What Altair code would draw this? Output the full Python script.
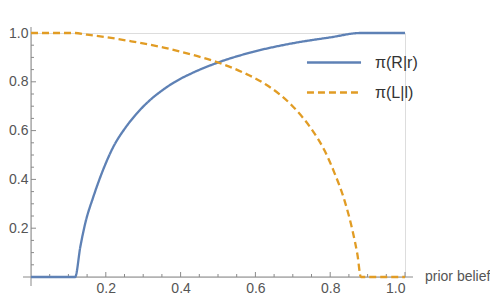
import altair as alt
import pandas as pd

# Curves
blue_x = [0, 0.118, 0.132, 0.145, 0.167, 0.193, 0.219, 0.254, 0.281, 0.316, 0.35, 0.382, 0.434, 0.5, 0.592, 0.7, 0.8, 0.882, 1.0]
blue_y = [0, 0, 0.125, 0.22, 0.33, 0.44, 0.53, 0.615, 0.667, 0.722, 0.764, 0.797, 0.838, 0.879, 0.922, 0.958, 0.982, 1.0, 1.0]
orange_x = [0, 0.118, 0.15, 0.2, 0.268, 0.355, 0.443, 0.5, 0.566, 0.627, 0.697, 0.75, 0.785, 0.811, 0.838, 0.86, 0.873, 0.882, 1.0]
orange_y = [1, 1, 0.993, 0.983, 0.966, 0.94, 0.906, 0.879, 0.839, 0.79, 0.704, 0.606, 0.518, 0.428, 0.315, 0.188, 0.09, 0, 0]
series_names = ["π(R|r)", "π(L|l)"]
colors = ["#5E81B5", "#E19C24"]

x_tick_labels = [0.2, 0.4, 0.6, 0.8, 1.0]
y_tick_labels = [0.2, 0.4, 0.6, 0.8, 1.0]
minor_ticks = [round(0.05 * i, 2) for i in range(1, 21)]
x_axis_title = "prior belief"

rows = []
for x, y in zip(blue_x, blue_y):
    rows.append({"x": x, "y": y, "s": series_names[0]})
for x, y in zip(orange_x, orange_y):
    rows.append({"x": x, "y": y, "s": series_names[1]})
df = pd.DataFrame(rows)

xs = alt.Scale(domain=[0, 1], nice=False, zero=False)
ys = alt.Scale(domain=[0, 1], nice=False, zero=False)
AX = "#8a8a8a"
LAB = "#555555"
FONT = "Liberation Sans"

lines = alt.Chart(df).mark_line(strokeWidth=2.3, interpolate="monotone", clip=False).encode(
    x=alt.X("x:Q", scale=xs, axis=alt.Axis(values=x_tick_labels, format=".1f", domain=False, ticks=False, grid=False,
                                           labelPadding=4, labelFontSize=14, labelColor=LAB, labelFont=FONT, title=None)),
    y=alt.Y("y:Q", scale=ys, axis=alt.Axis(values=y_tick_labels, format=".1f", domain=False, ticks=False, grid=False,
                                           labelPadding=3, labelFontSize=14, labelColor=LAB, labelFont=FONT, title=None)),
    color=alt.Color("s:N", scale=alt.Scale(domain=series_names, range=colors),
                    legend=alt.Legend(orient="none", legendX=295, legendY=21.5, title=None,
                                      symbolType="M-5,0H5", symbolSize=117, symbolStrokeWidth=2.3,
                                      labelFontSize=16, labelFont=FONT, labelColor="#333333",
                                      labelOffset=33, rowPadding=14, padding=0)),
    strokeDash=alt.StrokeDash("s:N", scale=alt.Scale(domain=series_names, range=[[1, 0], [7, 4]]), legend=None),
)

ticks_df = pd.DataFrame({"t": minor_ticks, "major": [abs(t / 0.2 - round(t / 0.2)) < 1e-6 for t in minor_ticks]})

x_major = alt.Chart(ticks_df).transform_filter("datum.major").mark_rule(color=AX, strokeWidth=1, y2Offset=-5).encode(
    x=alt.X("t:Q", scale=xs), y=alt.datum(0), y2=alt.datum(0))
x_minor = alt.Chart(ticks_df).transform_filter("!datum.major").mark_rule(color=AX, strokeWidth=1, y2Offset=-3).encode(
    x=alt.X("t:Q", scale=xs), y=alt.datum(0), y2=alt.datum(0))
y_major = alt.Chart(ticks_df).transform_filter("datum.major").mark_rule(color=AX, strokeWidth=1, x2Offset=5).encode(
    y=alt.Y("t:Q", scale=ys), x=alt.datum(0), x2=alt.datum(0))
y_minor = alt.Chart(ticks_df).transform_filter("!datum.major").mark_rule(color=AX, strokeWidth=1, x2Offset=3).encode(
    y=alt.Y("t:Q", scale=ys), x=alt.datum(0), x2=alt.datum(0))

x_axis = alt.Chart(pd.DataFrame({"a": [0]})).mark_rule(color=AX, strokeWidth=1, xOffset=-8, x2Offset=8).encode(
    x=alt.datum(0, scale=xs), x2=alt.datum(1), y=alt.datum(0, scale=ys))
y_axis = alt.Chart(pd.DataFrame({"a": [0]})).mark_rule(color=AX, strokeWidth=1, yOffset=9, y2Offset=-6).encode(
    y=alt.datum(0, scale=ys), y2=alt.datum(1), x=alt.datum(0, scale=xs))

title_text = alt.Chart(pd.DataFrame({"label": [x_axis_title]})).mark_text(
    align="left", baseline="middle", dx=20, fontSize=14, font=FONT, color=LAB).encode(
    x=alt.datum(1, scale=xs), y=alt.datum(0, scale=ys), text="label:N")

chart = alt.layer(x_minor, x_major, y_minor, y_major, x_axis, y_axis, lines, title_text).properties(
    width=374, height=244,
    autosize=alt.AutoSizeParams(type="none"),
    padding={"left": 23, "top": 25, "right": 85, "bottom": 20},
).configure_view(stroke=None).configure(background="white")

chart.save("out.html", embed_options={"renderer": "svg", "actions": False})
